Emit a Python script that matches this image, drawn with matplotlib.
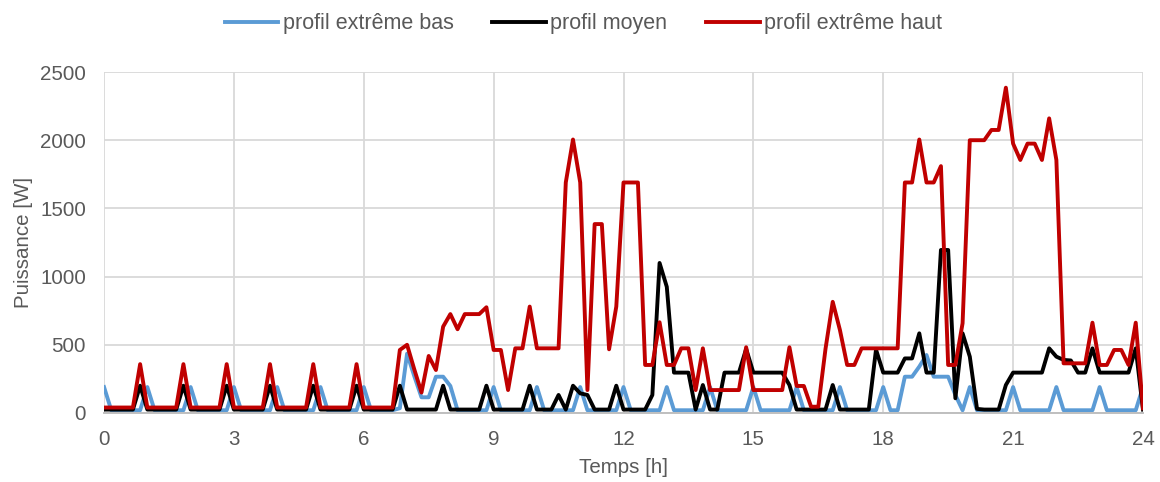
import numpy as np
import matplotlib
matplotlib.use("Agg")
import matplotlib.pyplot as plt

plt.rcParams['font.family'] = ['Liberation Sans', 'DejaVu Sans']

# time in hours, 10-minute steps (0..24 h)
temps_h = [i / 6 for i in range(145)]

# profil extrême bas (blue)
bas = [190, 20, 20, 20, 20, 20,
       190, 20, 20, 20, 20, 20,
       190, 20, 20, 20, 20, 20,
       190, 20, 20, 20, 20, 20,
       190, 20, 20, 20, 20, 20,
       190, 20, 20, 20, 20, 20,
       190, 20, 20, 20, 20, 35,
       435, 270, 115, 115, 266, 266,
       198, 20, 20, 20, 20, 20,
       190, 20, 20, 20, 20, 20,
       190, 20, 20, 20, 20, 20,
       190, 20, 20, 20, 20, 20,
       190, 20, 20, 20, 20, 20,
       190, 20, 20, 20, 20, 20,
       190, 20, 20, 20, 20, 20,
       190, 20, 20, 20, 20, 20,
       190, 20, 20, 20, 20, 20,
       190, 20, 20, 20, 20, 20,
       190, 20, 20, 266, 266, 340,
       425, 266, 266, 266, 132, 20,
       190, 20, 20, 20, 20, 20,
       190, 20, 20, 20, 20, 20,
       190, 20, 20, 20, 20, 20,
       190, 20, 20, 20, 20, 20,
       190]

# profil moyen (black)
moyen = [25, 25, 25, 25, 25, 200,
         25, 25, 25, 25, 25, 200,
         25, 25, 25, 25, 25, 200,
         25, 25, 25, 25, 25, 200,
         25, 25, 25, 25, 25, 200,
         25, 25, 25, 25, 25, 200,
         25, 25, 25, 25, 25, 200,
         25, 25, 25, 25, 25, 200,
         25, 25, 25, 25, 25, 200,
         25, 25, 25, 25, 25, 200,
         25, 25, 25, 132, 25, 200,
         144, 132, 25, 25, 25, 200,
         25, 25, 25, 25, 132, 1100,
         925, 296, 296, 296, 25, 205,
         25, 25, 296, 296, 296, 470,
         296, 296, 296, 296, 296, 205,
         25, 25, 25, 25, 25, 205,
         25, 25, 25, 25, 25, 465,
         296, 296, 296, 400, 400, 584,
         296, 296, 1195, 1195, 108, 584,
         413, 30, 25, 25, 25, 205,
         296, 296, 296, 296, 296, 474,
         413, 389, 385, 296, 296, 474,
         296, 296, 296, 296, 296, 474,
         25]

# profil extrême haut (red)
haut = [40, 40, 40, 40, 40, 358,
        40, 40, 40, 40, 40, 358,
        40, 40, 40, 40, 40, 358,
        40, 40, 40, 40, 40, 358,
        40, 40, 40, 40, 40, 358,
        40, 40, 40, 40, 40, 358,
        40, 40, 40, 40, 40, 462,
        500, 320, 150, 418, 315, 633,
        725, 614, 725, 725, 725, 775,
        462, 462, 168, 474, 474, 780,
        474, 474, 474, 474, 1690, 2005,
        1690, 168, 1385, 1385, 467, 780,
        1690, 1690, 1690, 352, 352, 665,
        352, 352, 474, 474, 168, 474,
        168, 168, 168, 168, 168, 482,
        168, 168, 168, 168, 168, 482,
        198, 198, 46, 46, 470, 815,
        608, 352, 352, 474, 474, 474,
        474, 474, 474, 1690, 1690, 2005,
        1690, 1690, 1810, 352, 352, 658,
        2000, 2000, 2000, 2075, 2075, 2385,
        1975, 1855, 1975, 1975, 1855, 2160,
        1855, 364, 364, 364, 364, 662,
        352, 352, 462, 462, 352, 662,
        35]

x_ticks = [0, 3, 6, 9, 12, 15, 18, 21, 24]
y_ticks = [0, 500, 1000, 1500, 2000, 2500]

grey_txt = '#595959'
fs = 14.8
fig = plt.figure(figsize=(11.6, 4.82), dpi=100)
ax = fig.add_axes([0.0897, 0.1432, 0.8956, 0.7074])

lw = 2.8
l1, = ax.plot(temps_h, bas, color='#5B9BD5', lw=lw, solid_joinstyle='round', label='profil extrême bas')
l2, = ax.plot(temps_h, moyen, color='#000000', lw=lw, solid_joinstyle='round', label='profil moyen')
l3, = ax.plot(temps_h, haut, color='#C00000', lw=lw, solid_joinstyle='round', label='profil extrême haut')

ax.set_xlim(0, 24)
ax.set_ylim(0, 2500)
ax.set_xticks(x_ticks)
ax.set_yticks(y_ticks)
ax.grid(True, color='#D9D9D9', lw=1.3)
ax.set_axisbelow(True)
for s in ['top', 'left', 'right']:
    ax.spines[s].set_visible(False)
ax.spines['bottom'].set_color('#BFBFBF')
ax.spines['bottom'].set_linewidth(1.4)
ax.tick_params(axis='y', length=0, labelsize=fs, colors=grey_txt, pad=13)
ax.tick_params(axis='x', length=0, labelsize=fs, colors=grey_txt, pad=12)
ax.set_xlabel('Temps [h]', fontsize=fs, color=grey_txt, labelpad=7)
ax.set_ylabel('Puissance [W]', fontsize=fs, color=grey_txt, labelpad=5)

fig.legend(handles=[l1, l2, l3], loc='center', bbox_to_anchor=(0.503, 0.951), ncol=3,
           frameon=False, fontsize=15.5, handlelength=2.5, columnspacing=1.8,
           handletextpad=0.2, labelcolor=grey_txt)

fig.savefig('out.png', dpi=100)
